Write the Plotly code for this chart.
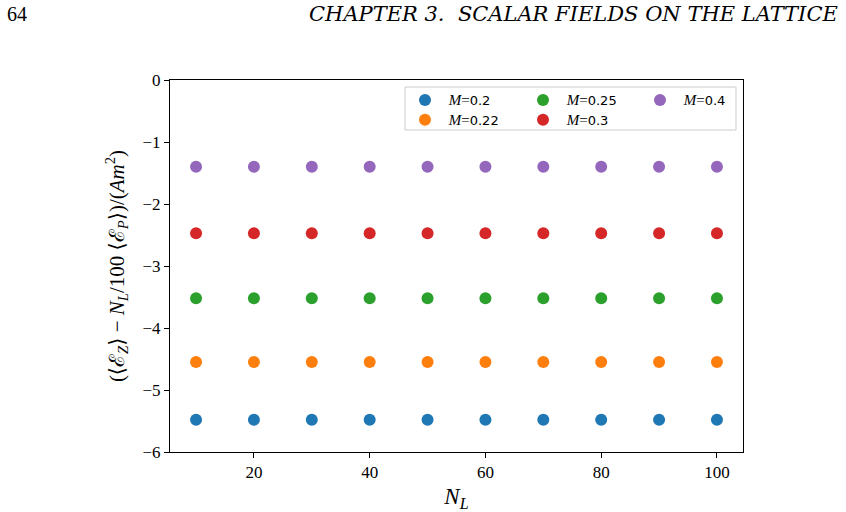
import plotly.graph_objects as go

N_L = [10, 20, 30, 40, 50, 60, 70, 80, 90, 100]
masses = ["0.2", "0.22", "0.25", "0.3", "0.4"]
values = {
    "0.2": [-5.48] * 10,
    "0.22": [-4.55] * 10,
    "0.25": [-3.52] * 10,
    "0.3": [-2.47] * 10,
    "0.4": [-1.40] * 10,
}
colors = {"0.2": "#1f77b4", "0.22": "#ff7f0e", "0.25": "#2ca02c", "0.3": "#d62728", "0.4": "#9467bd"}
# matplotlib-style legend with ncol=3 (column-major fill)
legend_column = {"0.2": "legend", "0.22": "legend", "0.25": "legend2", "0.3": "legend2", "0.4": "legend3"}

SERIF = "Liberation Serif, DejaVu Serif, serif"
SANS = "DejaVu Sans, sans-serif"

# plot area in pixels
L, R, T, B = 170, 743, 80, 452
W, H = R - L, B - T


def px(x):
    return (x - L) / W


def py(y):
    return (B - y) / H


fig = go.Figure()
for m in masses:
    fig.add_trace(go.Scatter(
        x=N_L, y=values[m], mode="markers",
        marker=dict(color=colors[m], size=12),
        name=f"<span style='font-family:{SERIF};font-size:15px'> <i>M</i>=</span>{m}",
        legend=legend_column[m],
    ))

leg_common = dict(
    orientation="v", yanchor="top", y=py(85), xanchor="left",
    bgcolor="rgba(0,0,0,0)", borderwidth=0,
    font=dict(family=SANS, size=13), tracegroupgap=0, itemsizing="constant",
)

fig.update_layout(
    width=846, height=512,
    margin=dict(l=L, r=846 - R, t=T, b=512 - B),
    paper_bgcolor="white", plot_bgcolor="white",
    font=dict(family=SERIF, color="black", size=14),
    legend=dict(x=px(405), **leg_common),
    legend2=dict(x=px(523), **leg_common),
    legend3=dict(x=px(640), **leg_common),
    xaxis=dict(
        range=[5.5, 104.5], tickvals=[20, 40, 60, 80, 100],
        showgrid=False, zeroline=False, showline=True, linecolor="black", linewidth=1,
        mirror=True, ticks="outside", ticklen=5, tickcolor="black",
        tickfont=dict(family=SERIF, size=17), automargin=False,
        title=dict(text="<i>N</i><sub><i>L</i></sub>", font=dict(family=SERIF, size=23), standoff=6),
    ),
    yaxis=dict(
        range=[-6, 0], tickvals=[0, -1, -2, -3, -4, -5, -6],
        ticktext=["0", "−1", "−2", "−3", "−4", "−5", "−6"],
        showgrid=False, zeroline=False, showline=True, linecolor="black", linewidth=1,
        mirror=True, ticks="outside", ticklen=5, tickcolor="black",
        tickfont=dict(family=SERIF, size=17), automargin=False,
        title=dict(text="(⟨ℰ<sub><i>Z</i></sub>⟩ − <i>N</i><sub><i>L</i></sub>/100 ⟨ℰ<sub><i>P</i></sub>⟩)/(<i>Am</i><sup>2</sup>)",
                   font=dict(family=SERIF, size=21), standoff=12),
    ),
    shapes=[dict(type="rect", xref="paper", yref="paper",
                 x0=px(405), x1=px(736), y0=py(130), y1=py(87),
                 line=dict(color="#cccccc", width=1), fillcolor="rgba(255,255,255,0.8)")],
)

fig.add_annotation(text="64", xref="paper", yref="paper", x=px(5), y=py(14),
                   xanchor="left", yanchor="middle", showarrow=False,
                   font=dict(family=SERIF, size=20, color="black"))
fig.add_annotation(text="<i>CHAPTER 3.  SCALAR FIELDS ON THE LATTICE</i>", xref="paper", yref="paper",
                   x=px(840), y=py(14),
                   xanchor="right", yanchor="middle", showarrow=False,
                   font=dict(family="DejaVu Serif, serif", size=21, color="black"))

fig.write_html("out.html")
